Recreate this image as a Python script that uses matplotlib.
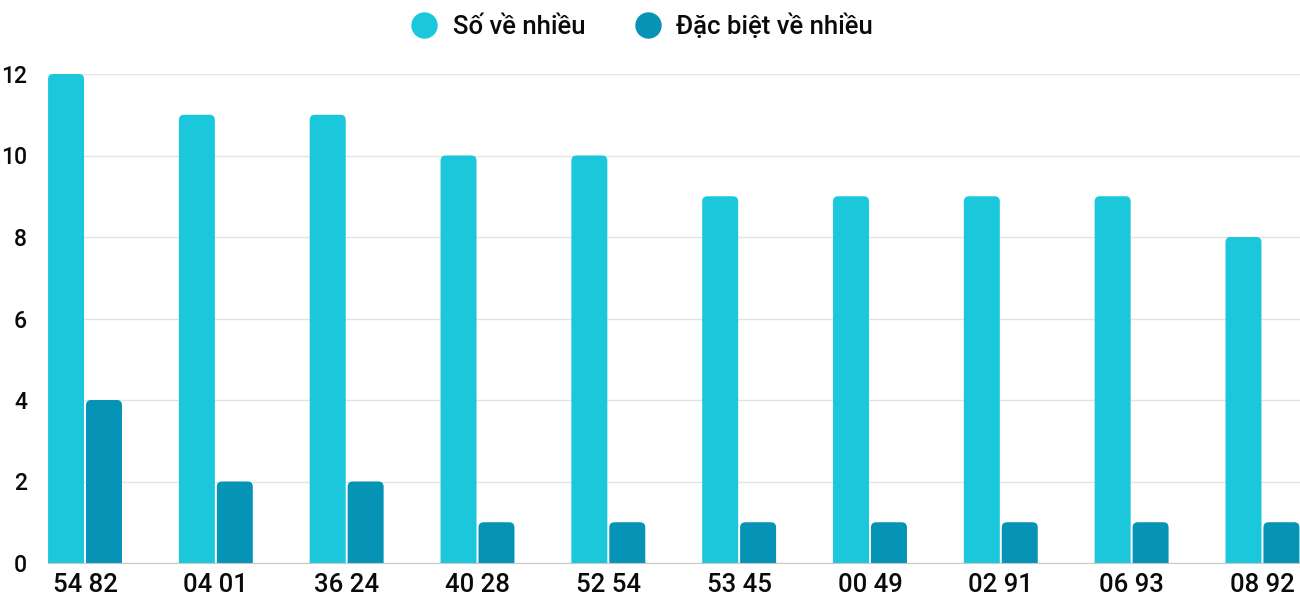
import numpy as np
import matplotlib.pyplot as plt
from matplotlib.patches import FancyBboxPatch

plt.rcParams['font.family'] = ['Roboto', 'DejaVu Sans']
plt.rcParams['font.weight'] = 500

categories = ["54 82", "04 01", "36 24", "40 28", "52 54",
              "53 45", "00 49", "02 91", "06 93", "08 92"]
so_ve_nhieu = [12, 11, 11, 10, 10, 9, 9, 9, 9, 8]
dac_biet_ve_nhieu = [4, 2, 2, 1, 1, 1, 1, 1, 1, 1]
series_names = ["Số về nhiều", "Đặc biệt về nhiều"]
colors = ["#1AC7DB", "#0593B6"]

W, H = 1300, 600
fig = plt.figure(figsize=(W / 100, H / 100), dpi=100)
ax = fig.add_axes([48 / W, 1 - 563 / H, (1300 - 48) / W, (563 - 74) / H])

x = np.arange(len(categories))
bar_w = 0.275
offset = 0.145

ax.set_xlim(-0.283, 9.287)
ax.set_ylim(0, 12)

# px per data unit, used to keep the corner rounding circular
px_x = (1300 - 48) / (9.287 + 0.283)
px_y = (563 - 74) / 12
aspect = px_x / px_y


def rounded_bars(xs, values, color, label):
    bars = ax.bar(xs, values, width=bar_w, color=color, label=label)
    for b in bars:
        b.set_visible(False)
        x0, h = b.get_x(), b.get_height()
        patch = FancyBboxPatch(
            (x0, -1), bar_w, h + 1,
            boxstyle="round,pad=0,rounding_size=0.04",
            mutation_aspect=aspect,
            facecolor=color, edgecolor="none", zorder=3,
        )
        ax.add_patch(patch)


rounded_bars(x - offset, so_ve_nhieu, colors[0], series_names[0])
rounded_bars(x + offset, dac_biet_ve_nhieu, colors[1], series_names[1])

ax.set_yticks(np.arange(0, 13, 2))
ax.set_xticks(x)
ax.set_xticklabels(categories)
ax.grid(axis="y", color="#E3E3E3", linewidth=1)
ax.set_axisbelow(True)
for side in ["top", "right", "left"]:
    ax.spines[side].set_visible(False)
ax.spines["bottom"].set_color("#C8C8C8")
ax.spines["bottom"].set_zorder(4)
ax.tick_params(axis="y", length=0, pad=15, labelsize=16.5, labelcolor="#0A0A0A")
ax.tick_params(axis="x", length=0, pad=7, labelsize=18.5, labelcolor="#0A0A0A")

handles = [plt.Line2D([], [], marker="o", linestyle="none", markersize=18,
                      markerfacecolor=c, markeredgecolor=c) for c in colors]
fig.legend(handles, series_names, loc="center", bbox_to_anchor=(0.494, 1 - 26 / H),
           ncol=2, frameon=False, fontsize=18.5, handlelength=1.0,
           handletextpad=0.6, columnspacing=1.95, labelcolor="#0A0A0A")

fig.savefig("out.png", dpi=100)
